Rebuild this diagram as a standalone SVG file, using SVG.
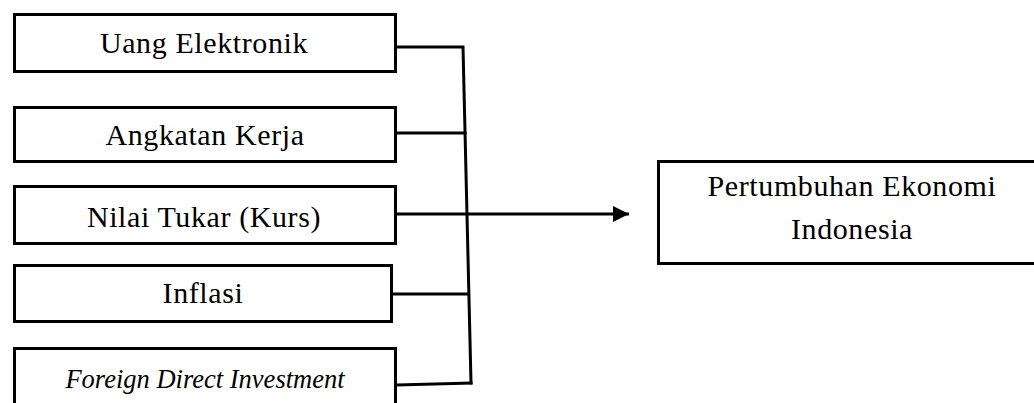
<svg xmlns="http://www.w3.org/2000/svg" width="1034" height="403" viewBox="0 0 1034 403">
<style>
.box{fill:#fff;stroke:#000;stroke-width:3}
.t{font-family:"Liberation Serif","Times New Roman",serif;font-size:30px;letter-spacing:0.6px;fill:#000;text-anchor:middle}
.i{font-style:italic;letter-spacing:0;font-size:26.5px}
.c{fill:none;stroke:#000;stroke-width:3;stroke-linecap:square}
</style>
<defs>
<marker id="ah" markerUnits="userSpaceOnUse" markerWidth="18" markerHeight="16" refX="16" refY="8" orient="auto">
<path d="M0,0 L16,8 L0,16 Z" fill="#000"/>
</marker>
</defs>
<rect width="1034" height="403" fill="#fff"/>
<g id="n1"><rect class="box" x="14.5" y="14.5" width="381" height="57"/><text class="t" x="204" y="53">Uang Elektronik</text></g>
<g id="n2"><rect class="box" x="14.5" y="107.5" width="381" height="54"/><text class="t" x="205" y="145">Angkatan Kerja</text></g>
<g id="n3"><rect class="box" x="14.5" y="186.5" width="381" height="57"/><text class="t" x="204" y="227">Nilai Tukar (Kurs)</text></g>
<g id="n4"><rect class="box" x="14.5" y="265.5" width="377" height="56"/><text class="t" x="203" y="303">Inflasi</text></g>
<g id="n5"><rect class="box" x="14.5" y="348.5" width="381" height="60"/><text class="t i" x="205" y="388">Foreign Direct Investment</text></g>
<g id="n6"><rect class="box" x="658.5" y="161.5" width="390" height="102"/><text class="t" x="852" y="196">Pertumbuhan Ekonomi</text><text class="t" x="852" y="239">Indonesia</text></g>
<g id="connectors">
<path class="c" d="M397,47 L463,47 L471,383"/>
<path class="c" d="M397,133 L465,133"/>
<path class="c" d="M397,214 L466,214"/>
<path class="c" d="M393,294 L468,294"/>
<path class="c" d="M397,385 L471,383"/>
<path class="c" d="M466,214 L629,214" marker-end="url(#ah)" style="stroke-linecap:butt"/>
</g>
</svg>
